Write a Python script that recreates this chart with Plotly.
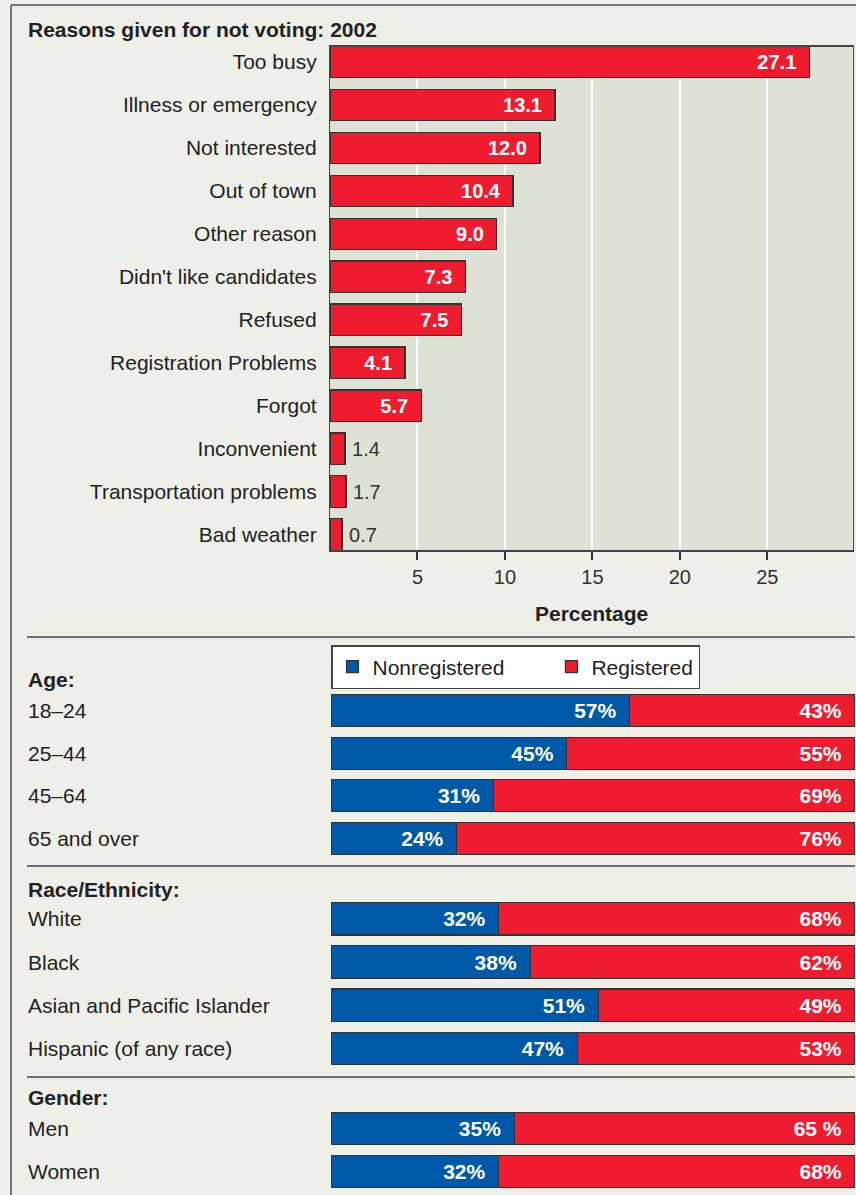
import plotly.graph_objects as go

W, H = 856, 1195

# ---------------- data ----------------
reasons = ["Too busy", "Illness or emergency", "Not interested", "Out of town",
           "Other reason", "Didn't like candidates", "Refused",
           "Registration Problems", "Forgot", "Inconvenient",
           "Transportation problems", "Bad weather"]
# bar lengths as drawn in the picture
reason_bar_lengths = [27.4, 12.86, 12.0, 10.46, 9.54, 7.74, 7.51, 4.29, 5.21, 0.86, 0.91, 0.69]
# values printed on the bars
reason_labels = ["27.1", "13.1", "12.0", "10.4", "9.0", "7.3", "7.5", "4.1", "5.7", "1.4", "1.7", "0.7"]
reason_ticks = [5, 10, 15, 20, 25]

age_groups = ["18\u201324", "25\u201344", "45\u201364", "65 and over"]
age_nonreg = [57, 45, 31, 24]
age_reg = [43, 55, 69, 76]

race_groups = ["White", "Black", "Asian and Pacific Islander", "Hispanic (of any race)"]
race_nonreg = [32, 38, 51, 47]
race_reg = [68, 62, 49, 53]

gender_groups = ["Men", "Women"]
gender_nonreg = [35, 32]
gender_reg = [65, 68]
gender_reg_labels = ["65 %", "68%"]

section_titles = ["Age:", "Race/Ethnicity:", "Gender:"]
series_names = ["Nonregistered", "Registered"]

# ---------------- style ----------------
FONT = "Liberation Sans, Arial, Helvetica, sans-serif"
RED = "#ee1c2e"
BLUE = "#0059a8"
PAPER = "#eef0e8"
PLOTBG = "#dce3d4"
OUTLINE = "#333333"
TXT = "#222222"


def px(x):
    return x / W


def py(y):
    return 1 - y / H


fig = go.Figure()

# top chart
n = len(reasons)
positions = ["inside" if v >= 3 else "outside" for v in reason_bar_lengths]
templates = ["%{text}\u2002" if p == "inside" else "\u2009%{text}" for p in positions]
fig.add_trace(go.Bar(
    orientation="h", y=reasons, x=reason_bar_lengths, text=reason_labels,
    texttemplate=templates, textposition=positions, insidetextanchor="end",
    insidetextfont=dict(family=FONT, size=20, color="white", weight="bold"),
    outsidetextfont=dict(family=FONT, size=20, color="#333333"),
    marker=dict(color=RED, line=dict(color=OUTLINE, width=1.2)),
    width=0.73, cliponaxis=False, showlegend=False, hoverinfo="skip",
    xaxis="x", yaxis="y",
))

# legend names: first entry padded so the second entry sits where it does in the original
legend_names = [series_names[0] + "\u2002" * 4, series_names[1]]

groups = [
    (age_groups, age_nonreg, age_reg, [f"{v}%" for v in age_reg], "2"),
    (race_groups, race_nonreg, race_reg, [f"{v}%" for v in race_reg], "3"),
    (gender_groups, gender_nonreg, gender_reg, gender_reg_labels, "4"),
]
for gi, (cats, nonreg, reg, reg_labels, ax) in enumerate(groups):
    for si, (vals, labels, color) in enumerate([
            (nonreg, [f"{v}%" for v in nonreg], BLUE),
            (reg, reg_labels, RED)]):
        fig.add_trace(go.Bar(
            orientation="h", y=cats, x=vals, text=labels,
            texttemplate="%{text}\u2002", textposition="inside",
            insidetextanchor="end",
            insidetextfont=dict(family=FONT, size=21, color="white", weight="bold"),
            marker=dict(color=color, line=dict(color=OUTLINE, width=1.2)),
            width=0.75, name=legend_names[si], legendgroup=series_names[si],
            showlegend=(gi == 0), hoverinfo="skip",
            xaxis="x" + ax, yaxis="y" + ax,
        ))

layout = dict(
    width=W, height=H, margin=dict(l=0, r=0, t=0, b=0),
    paper_bgcolor=PAPER, plot_bgcolor=PAPER, barmode="stack",
    font=dict(family=FONT, size=21, color=TXT),
    xaxis=dict(domain=[px(330), px(852.5)], range=[0, 29.87], anchor="y",
               tickvals=reason_ticks, showgrid=True, gridcolor="white", gridwidth=1.5,
               ticks="outside", ticklen=8, tickwidth=1.5, tickcolor="#333333",
               tickfont=dict(size=20, color="#333333"),
               showline=True, linecolor="#444444", linewidth=1.5, mirror=True,
               zeroline=False, fixedrange=True),
    yaxis=dict(domain=[py(550), py(46.5)], type="category", categoryarray=reasons,
               range=[n - 1 + 0.36, -0.36], anchor="x",
               ticks="outside", ticklen=8, tickcolor="rgba(0,0,0,0)",
               tickfont=dict(size=21, color=TXT),
               showline=True, linecolor="#444444", linewidth=1.2, mirror=True,
               showgrid=False, fixedrange=True),
    legend=dict(orientation="h", x=px(331), y=py(645), xanchor="left", yanchor="top",
                bgcolor="white", bordercolor="#444444", borderwidth=1.5,
                font=dict(size=21, color=TXT), traceorder="normal"),
)

sub_domains = {"2": (689.5, 859.6), "3": (897.2, 1070.0), "4": (1107.2, 1193.2)}
for (cats, _, _, _, ax) in groups:
    top, bot = sub_domains[ax]
    layout["xaxis" + ax] = dict(domain=[px(331), px(855)], range=[0, 100],
                                anchor="y" + ax, visible=False, fixedrange=True)
    layout["yaxis" + ax] = dict(domain=[py(bot), py(top)], type="category",
                                categoryarray=cats, range=[len(cats) - 0.5, -0.5],
                                anchor="x" + ax, visible=False, fixedrange=True)
fig.update_layout(**layout)

# plot-area background for top chart
fig.add_shape(type="rect", xref="x domain", yref="y domain", x0=0, x1=1, y0=0, y1=1,
              fillcolor=PLOTBG, line=dict(width=0), layer="below")

# frame + separators
line_frame = dict(color="#777777", width=2)
fig.add_shape(type="line", xref="paper", yref="paper", x0=px(11), x1=px(11),
              y0=py(5), y1=0, line=line_frame)
fig.add_shape(type="line", xref="paper", yref="paper", x0=px(11), x1=1,
              y0=py(5), y1=py(5), line=line_frame)
for ysep in [637, 866, 1077]:
    fig.add_shape(type="line", xref="paper", yref="paper", x0=px(27), x1=px(855),
                  y0=py(ysep), y1=py(ysep), line=dict(color="#444444", width=1.5))

# title and axis title
fig.add_annotation(text="<b>Reasons given for not voting: 2002</b>", xref="paper", yref="paper",
                   x=px(26), y=py(30), xanchor="left", yanchor="middle", showarrow=False,
                   font=dict(size=21, color=TXT))
fig.add_annotation(text="<b>Percentage</b>", xref="paper", yref="paper",
                   x=px(591), y=py(613), xanchor="center", yanchor="middle", showarrow=False,
                   font=dict(size=21, color=TXT))

# section headings
for title, yh in zip(section_titles, [679, 889, 1097]):
    fig.add_annotation(text=f"<b>{title}</b>", xref="paper", yref="paper",
                       x=px(26), y=py(yh), xanchor="left", yanchor="middle",
                       showarrow=False, font=dict(size=21, color=TXT))

# row labels for the bottom panels
for (cats, _, _, _, ax) in groups:
    for c in cats:
        fig.add_annotation(text=c, xref="paper", yref="y" + ax, x=px(26), y=c,
                           xanchor="left", yanchor="middle", showarrow=False,
                           font=dict(size=21, color=TXT))

fig.write_html("out.html")
